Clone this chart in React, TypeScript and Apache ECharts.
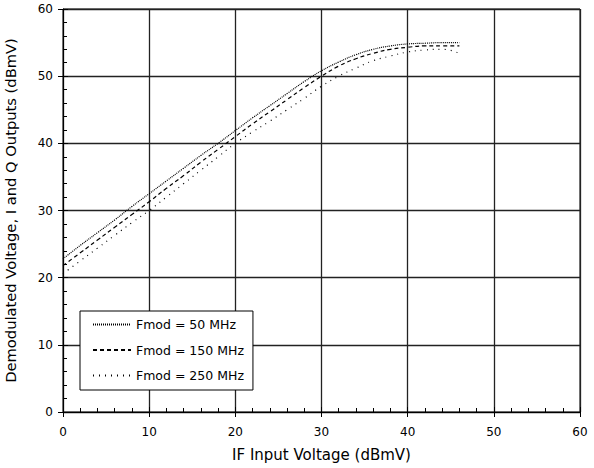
import React, { useEffect, useRef } from "react";
import * as echarts from "echarts";

const inputVoltage = [0, 2, 4, 6, 8, 10, 12, 14, 16, 18, 20, 22, 24, 26, 28, 30, 32, 34, 36, 38, 40, 42, 44, 46];
const fmod50 = [22.8, 24.8, 26.7, 28.6, 30.6, 32.5, 34.4, 36.3, 38.2, 40.0, 41.9, 43.8, 45.6, 47.4, 49.2, 50.8, 52.1, 53.2, 54.0, 54.5, 54.8, 54.9, 55.0, 55.0];
const fmod150 = [21.8, 23.7, 25.6, 27.5, 29.4, 31.3, 33.3, 35.2, 37.2, 39.1, 41.0, 42.9, 44.7, 46.5, 48.3, 50.0, 51.5, 52.6, 53.4, 54.0, 54.3, 54.5, 54.5, 54.5];
const fmod250 = [20.6, 22.5, 24.4, 26.3, 28.2, 30.0, 32.0, 34.0, 36.0, 38.0, 40.0, 41.7, 43.3, 45.0, 46.7, 48.5, 50.0, 51.2, 52.3, 53.0, 53.6, 53.9, 54.0, 53.4];
const seriesNames = ["Fmod = 50 MHz", "Fmod = 150 MHz", "Fmod = 250 MHz"];

const FONT = "DejaVu Sans, Liberation Sans, Arial, sans-serif";

export default function App() {
  const ref = useRef<HTMLDivElement>(null);
  useEffect(() => {
    if (!ref.current) return;
    const chart = echarts.init(ref.current, undefined, { renderer: "svg" });
    const pair = (ys: number[]) => inputVoltage.map((x, i) => [x, ys[i]]);
    const dashes: any[] = [[1, 1], [4, 3], [1, 5]];
    const all = [fmod50, fmod150, fmod250];
    const tickAxis = {
      type: "value",
      min: 0,
      max: 60,
      interval: 10,
      axisLine: { show: false },
      axisTick: { show: true, inside: false, length: 5, lineStyle: { color: "#000" } },
      axisLabel: { show: false },
      splitLine: { show: false },
    };
    chart.setOption({
      animation: false,
      backgroundColor: "#fff",
      textStyle: { fontFamily: FONT, color: "#000" },
      grid: {
        left: 63,
        right: 14,
        top: 9,
        bottom: 56,
        outerBoundsMode: "none",
        containLabel: false,
        show: true,
        borderColor: "#000",
        borderWidth: 1,
      },
      legend: {
        orient: "vertical",
        left: 80,
        top: 311,
        backgroundColor: "#fff",
        borderColor: "#000",
        borderWidth: 1,
        padding: [7, 9, 8, 12],
        itemWidth: 38,
        itemHeight: 16,
        itemGap: 12.5,
        itemStyle: { color: "transparent", borderColor: "transparent", borderWidth: 0 },
        textStyle: { fontFamily: FONT, fontSize: 12.5, color: "#000" },
        data: seriesNames,
      },
      xAxis: [
        {
          type: "value",
          min: 0,
          max: 60,
          interval: 10,
          name: "IF Input Voltage (dBmV)",
          nameLocation: "middle",
          nameGap: 35,
          nameTextStyle: { fontFamily: FONT, fontSize: 15, color: "#000" },
          axisLine: { show: true, lineStyle: { color: "#000", width: 1 } },
          axisTick: { show: true, inside: true, length: 5, lineStyle: { color: "#000" } },
          minorTick: { show: true, splitNumber: 5, length: 4, lineStyle: { color: "#000" } },
          axisLabel: { fontFamily: FONT, fontSize: 12, color: "#000", margin: 14 },
          splitLine: { show: true, lineStyle: { color: "#222", width: 1.3 } },
        },
        { ...tickAxis, position: "bottom" },
      ],
      yAxis: [
        {
          type: "value",
          min: 0,
          max: 60,
          interval: 10,
          name: "Demodulated Voltage, I and Q Outputs (dBmV)",
          nameLocation: "middle",
          nameGap: 45,
          nameTextStyle: { fontFamily: FONT, fontSize: 14.7, color: "#000" },
          axisLine: { show: true, lineStyle: { color: "#000", width: 1 } },
          axisTick: { show: true, inside: true, length: 5, lineStyle: { color: "#000" } },
          minorTick: { show: true, splitNumber: 5, length: 4, lineStyle: { color: "#000" } },
          axisLabel: { fontFamily: FONT, fontSize: 12, color: "#000", margin: 10 },
          splitLine: { show: true, lineStyle: { color: "#222", width: 1.3 } },
        },
        { ...tickAxis, position: "left" },
      ],
      series: all.map((ys, i) => ({
        name: seriesNames[i],
        type: "line",
        xAxisIndex: 0,
        yAxisIndex: 0,
        data: pair(ys),
        showSymbol: false,
        symbol: "none",
        smooth: true,
        lineStyle: { color: "#000", width: 1.2, type: dashes[i] },
        itemStyle: { color: "#000" },
      })),
    });
    return () => chart.dispose();
  }, []);
  return (
    <div style={{ position: "fixed", left: 0, top: 0, width: 594, height: 468 }}>
      <div ref={ref} style={{ width: 594, height: 468 }} />
    </div>
  );
}
